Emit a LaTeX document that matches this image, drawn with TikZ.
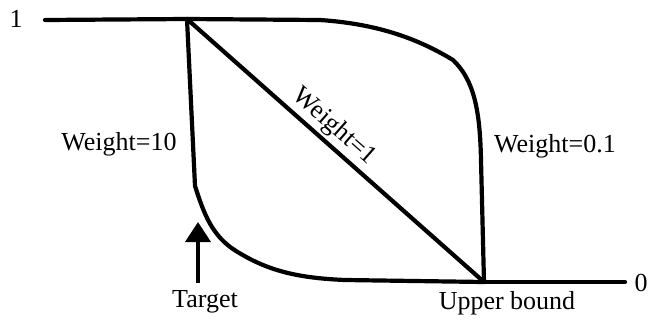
\documentclass[tikz,border=0pt]{standalone}
\usepackage{fontspec}
\setmainfont{Liberation Serif}
\usetikzlibrary{arrows.meta}
\tikzset{
  curve/.style={line width=4.2pt, line join=round, line cap=round},
  lbl/.style={font=\fontsize{26}{30}\selectfont, inner sep=0pt},
  pointer/.style={line width=4pt, -{Triangle[width=25pt,length=20pt]}}
}
\begin{document}
\begin{tikzpicture}[x=1pt,y=-1pt]
\useasboundingbox (0,0) rectangle (651,322);
\coordinate (tl) at (45,20);
\coordinate (top) at (187,19);
\coordinate (bot) at (484,282);
\coordinate (br) at (625,282);
\coordinate (as) at (198,283);
\coordinate (ae) at (198,222);
% axes levels
\draw[curve] (tl) -- (top);
\draw[curve] (bot) -- (br);
% weight = 1
\draw[curve] (top) -- (bot);
% weight = 0.1
\draw[curve] (top) -- (320,20) .. controls (380,24) and (420,40) .. (453,60)
  .. controls (474,80) and (480,110) .. (481,160) -- (bot);
% weight = 10
\draw[curve] (top) -- (195,186) .. controls (204,214) and (212,236) .. (236,251)
  .. controls (268,271) and (298,278) .. (345,280) -- (bot);
% arrow
\draw[pointer] (as) -- (ae);
% labels
\node[lbl] (one) at (16,19) {1};
\node[lbl] (zero) at (641,283) {0};
\node[lbl] (w10) at (119,144) {Weight=10};
\node[lbl] (w01) at (555,146) {Weight=0.1};
\node[lbl, rotate=-41.4] (w1) at (334,127) {Weight=1};
\node[lbl] (tgt) at (205,302) {Target};
\node[lbl] (ub) at (507,303) {Upper bound};
\end{tikzpicture}
\end{document}
